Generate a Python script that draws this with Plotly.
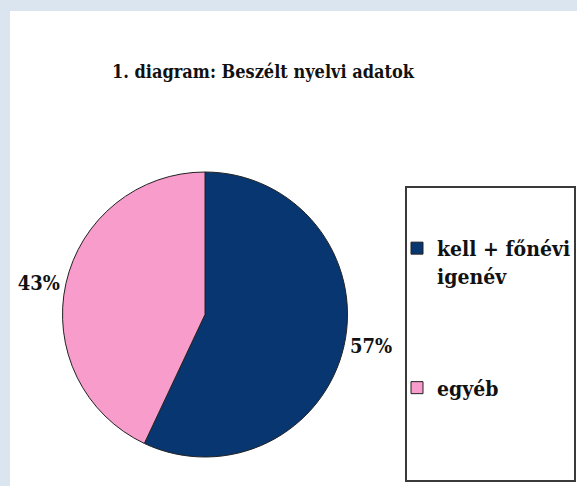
import plotly.graph_objects as go

labels = ["kell + főnévi<br>igenév<br> <br> <br> ", "egyéb"]
values = [57, 43]
colors = ["#083671", "#f79ccb"]
title_text = "1. diagram: Beszélt nyelvi adatok"

W, H = 577, 486
FONT = "DejaVu Serif Condensed, DejaVu Serif, serif"

fig = go.Figure()
fig.add_trace(go.Pie(
    labels=labels,
    values=values,
    sort=False,
    direction="clockwise",
    rotation=0,
    marker=dict(colors=colors, line=dict(color="#222222", width=1)),
    textinfo="percent",
    texttemplate="%{percent:.0%}",
    textposition="outside",
    textfont=dict(family=FONT, size=20, color="#111111", weight="bold"),
    domain=dict(x=[62.5 / W, 347.5 / W], y=[(H - 457) / H, (H - 172) / H]),
    hoverinfo="label+percent",
))

fig.update_layout(
    width=W, height=H,
    margin=dict(l=0, r=0, t=0, b=0),
    paper_bgcolor="#dbe5f0",
    plot_bgcolor="#ffffff",
    title=dict(
        text="<b>" + title_text + "</b>",
        x=263 / W, xanchor="center",
        y=(H - 72) / H, yanchor="middle",
        font=dict(family=FONT, size=18, color="#111111"),
    ),
    showlegend=True,
    legend=dict(
        x=397 / W, xanchor="left",
        y=(H - 228) / H, yanchor="top",
        bgcolor="rgba(0,0,0,0)",
        borderwidth=0,
        valign="top",
        font=dict(family=FONT, size=21, color="#111111", weight="bold"),
        itemclick=False,
    ),
    shapes=[
        dict(type="rect", xref="paper", yref="paper",
             x0=10 / W, x1=1.02, y0=-0.02, y1=(H - 11) / H,
             fillcolor="#ffffff", line=dict(width=0), layer="below"),
        dict(type="rect", xref="paper", yref="paper",
             x0=406 / W, x1=575 / W, y0=(H - 481) / H, y1=(H - 187) / H,
             fillcolor="rgba(0,0,0,0)", line=dict(color="#3a3a3a", width=2), layer="above"),
    ],
)

fig.write_html("out.html")
